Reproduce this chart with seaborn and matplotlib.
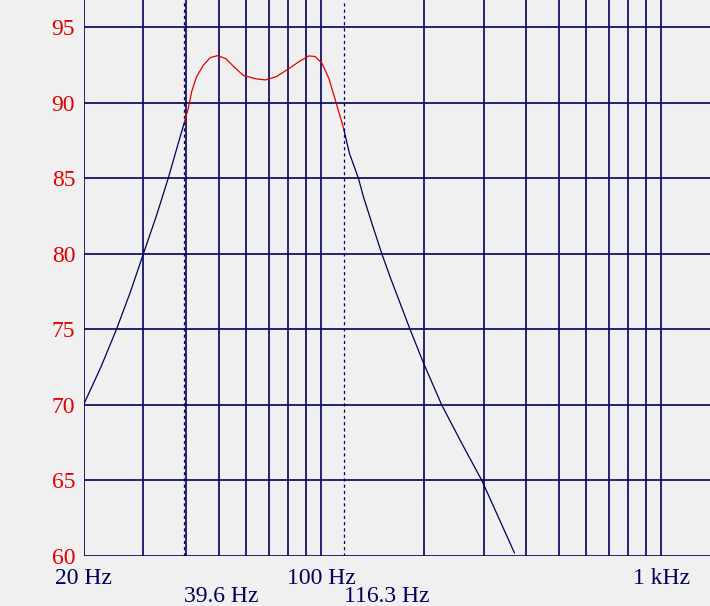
import numpy as np
import pandas as pd
import seaborn as sns
import matplotlib.pyplot as plt
from matplotlib.ticker import FixedLocator, NullFormatter

# frequency response (Hz, dB)
low_freq = [20, 22.5, 25, 27.5, 30, 32.7, 35.5, 38.2, 39.6]
low_spl = [70.0, 72.5, 75.0, 77.5, 80.0, 82.45, 85.0, 87.5, 88.7]

band_freq = [39.6, 40.66, 41.6, 43.0, 45.1, 47.2, 49.6, 52.5, 55.3, 59.1, 64.5,
             68.5, 73.8, 80.1, 86.0, 91.9, 95.9, 100.5, 105.3, 108.9, 112.6, 116.3]
band_spl = [88.7, 89.63, 90.73, 91.72, 92.5, 92.98, 93.11, 92.9, 92.38, 91.79, 91.57,
            91.5, 91.72, 92.23, 92.71, 93.09, 93.05, 92.6, 91.6, 90.5, 89.4, 88.3]

high_freq = [116.3, 121, 128.6, 133.0, 141.9, 150.7, 159.8, 182.4, 200, 226, 259, 296.6, 370]
high_spl = [88.3, 86.65, 85.0, 83.78, 81.8, 80.0, 78.4, 75.0, 72.75, 70.0, 67.45, 65.0, 60.2]

marker_freq = [39.6, 116.3]
marker_labels = ["39.6 Hz", "116.3 Hz"]

x_ticks = [20, 100, 1000]
x_ticklabels = ["20 Hz", "100 Hz", "1 kHz"]
x_grid = [20, 30, 40, 50, 60, 70, 80, 90, 100, 200, 300, 400, 500, 600, 700, 800, 900, 1000]
y_ticks = [60, 65, 70, 75, 80, 85, 90, 95]

navy = "#00005a"
bg = "#f0f0f0"

sns.set_style("white", {"axes.facecolor": bg, "figure.facecolor": bg})
plt.rcParams["font.family"] = ["Liberation Serif", "DejaVu Serif"]

fig = plt.figure(figsize=(7.10, 6.06), dpi=100)
W, H = 710, 606
ax = fig.add_axes([83.5 / W, (H - 556) / H, 1 - 83.5 / W, 556 / H])

low = pd.DataFrame({"freq": low_freq, "spl": low_spl})
band = pd.DataFrame({"freq": band_freq, "spl": band_spl})
high = pd.DataFrame({"freq": high_freq, "spl": high_spl})

ax.set_xscale("log")
ax.set_xlim(20, 1390)
ax.set_ylim(60, 96.79)

# grid
for f in x_grid:
    ax.axvline(f, color=navy, lw=1.2, zorder=1)
for v in y_ticks:
    ax.axhline(v, color=navy, lw=1.2, zorder=1)
for f in marker_freq:
    ax.axvline(f, color=navy, lw=0.9, ls=(0, (2.5, 2.5)), zorder=1)

sns.lineplot(data=low, x="freq", y="spl", ax=ax, color=navy, lw=0.9,
             sort=False, estimator=None, zorder=3)
sns.lineplot(data=high, x="freq", y="spl", ax=ax, color=navy, lw=0.9,
             sort=False, estimator=None, zorder=3)
sns.lineplot(data=band, x="freq", y="spl", ax=ax, color="#e00000", lw=0.9,
             sort=False, estimator=None, zorder=3)

for s in ax.spines.values():
    s.set_visible(False)

ax.xaxis.set_major_locator(FixedLocator(x_ticks))
ax.xaxis.set_minor_locator(FixedLocator([]))
ax.xaxis.set_minor_formatter(NullFormatter())
ax.set_xticklabels(x_ticklabels)
ax.set_yticks(y_ticks)
ax.tick_params(axis="x", length=0, pad=9, labelsize=17, labelcolor=navy)
ax.tick_params(axis="y", length=0, pad=6, labelsize=17, labelcolor="#e00000")
ax.set_xlabel("")
ax.set_ylabel("")

for f, lab in zip(marker_freq, marker_labels):
    ax.text(f, -0.054, lab, transform=ax.get_xaxis_transform(), ha="left",
            va="top", fontsize=17, color=navy)

fig.savefig("out.png", dpi=100, facecolor=bg)
